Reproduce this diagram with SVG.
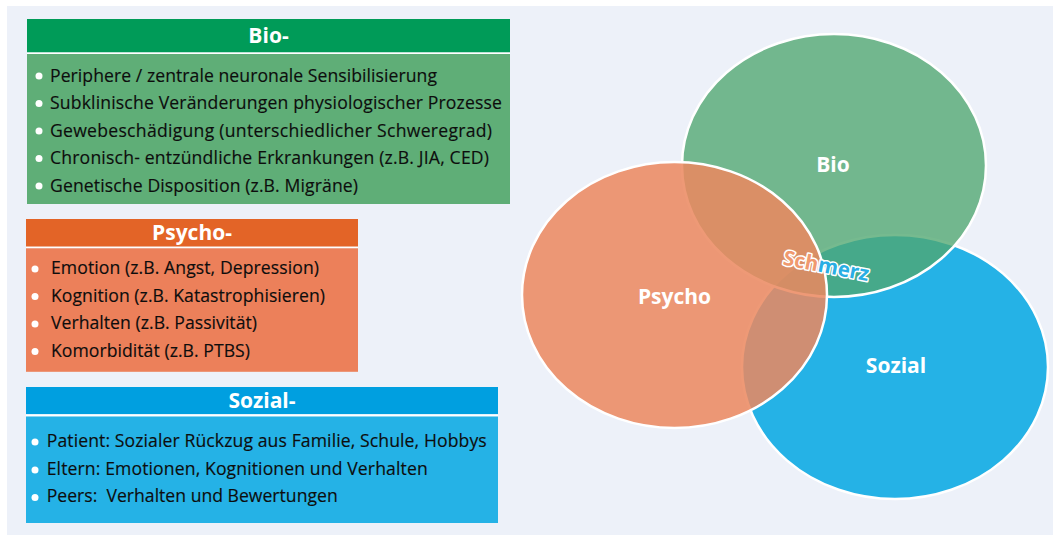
<svg xmlns="http://www.w3.org/2000/svg" width="1053" height="535" viewBox="0 0 1053 535">
  <style>
    .hdr { font-family: "Open Sans", "Noto Sans", sans-serif; font-weight: 700; font-size: 21px; fill: #ffffff; text-anchor: middle; }
    .txt { font-family: "Open Sans", "Noto Sans", sans-serif; font-size: 17.6px; fill: #0d0d0d; stroke: #0d0d0d; stroke-width: 0.15; }
    .bul { fill: #ffffff; }
    .lbl { font-family: "Open Sans", "Noto Sans", sans-serif; font-weight: 700; font-size: 21px; fill: #ffffff; text-anchor: middle; }
    .ell { stroke: #ffffff; stroke-width: 2.5; }
    .sch { font-family: "Open Sans", "Noto Sans", sans-serif; font-weight: 700; font-size: 20.5px; stroke: #ffffff; stroke-width: 3; paint-order: stroke; stroke-linejoin: round; }
  </style>
  <rect x="0" y="0" width="1053" height="535" fill="#ffffff"/>
  <rect x="7" y="6" width="1046" height="529" fill="#edf1f9"/>

  <g id="box-bio">
    <rect x="27" y="19" width="483" height="33.5" fill="#009b58"/>
    <rect x="27" y="52.5" width="483" height="1.5" fill="#ffffff"/>
    <rect x="27" y="54" width="483" height="150" fill="#5fae77"/>
    <text class="hdr" x="268.5" y="43">Bio-</text>
    <circle class="bul" cx="39" cy="76" r="3.5"/>
    <circle class="bul" cx="39" cy="103.5" r="3.5"/>
    <circle class="bul" cx="39" cy="131" r="3.5"/>
    <circle class="bul" cx="39" cy="158.5" r="3.5"/>
    <circle class="bul" cx="39" cy="186" r="3.5"/>
    <text class="txt" x="50" y="81.7" textLength="387">Periphere / zentrale neuronale Sensibilisierung</text>
    <text class="txt" x="50" y="109.2" textLength="452">Subklinische Veränderungen physiologischer Prozesse</text>
    <text class="txt" x="50" y="136.7" textLength="442">Gewebeschädigung (unterschiedlicher Schweregrad)</text>
    <text class="txt" x="50" y="164.2" textLength="439">Chronisch- entzündliche Erkrankungen (z.B. JIA, CED)</text>
    <text class="txt" x="50" y="191.7" textLength="308">Genetische Disposition (z.B. Migräne)</text>
  </g>

  <g id="box-psycho">
    <rect x="26" y="219" width="332" height="27.7" fill="#e36427"/>
    <rect x="26" y="246.7" width="332" height="1.6" fill="#ffffff"/>
    <rect x="26" y="248.3" width="332" height="123.5" fill="#ec805a"/>
    <text class="hdr" x="192" y="240">Psycho-</text>
    <circle class="bul" cx="35" cy="269" r="3.5"/>
    <circle class="bul" cx="35" cy="296.5" r="3.5"/>
    <circle class="bul" cx="35" cy="324" r="3.5"/>
    <circle class="bul" cx="35" cy="351.5" r="3.5"/>
    <text class="txt" x="51" y="274.2" textLength="268">Emotion (z.B. Angst, Depression)</text>
    <text class="txt" x="51" y="301.7" textLength="274">Kognition (z.B. Katastrophisieren)</text>
    <text class="txt" x="51" y="329.2" textLength="206">Verhalten (z.B. Passivität)</text>
    <text class="txt" x="51" y="356.7" textLength="199">Komorbidität (z.B. PTBS)</text>
  </g>

  <g id="box-sozial">
    <rect x="26" y="387" width="472" height="27.3" fill="#009fe0"/>
    <rect x="26" y="414.3" width="472" height="2.2" fill="#ffffff"/>
    <rect x="26" y="416.5" width="472" height="106.5" fill="#25b2e6"/>
    <text class="hdr" x="262" y="408">Sozial-</text>
    <circle class="bul" cx="35" cy="442" r="3.5"/>
    <circle class="bul" cx="35" cy="470" r="3.5"/>
    <circle class="bul" cx="35" cy="497.5" r="3.5"/>
    <text class="txt" x="46.7" y="446.7" textLength="440">Patient: Sozialer Rückzug aus Familie, Schule, Hobbys</text>
    <text class="txt" x="46.7" y="474.7" textLength="381">Eltern: Emotionen, Kognitionen und Verhalten</text>
    <text class="txt" x="46.7" y="502.2" textLength="291" xml:space="preserve">Peers:  Verhalten und Bewertungen</text>
  </g>

  <g id="venn-sozial">
    <ellipse class="ell" cx="895" cy="367" rx="153" ry="132" fill="#25b2e6"/>
  </g>
  <g id="venn-bio">
    <ellipse class="ell" cx="834" cy="165.5" rx="152" ry="131.5" fill="#50a76f" fill-opacity="0.78"/>
  </g>
  <g id="venn-psycho">
    <ellipse class="ell" cx="674.5" cy="295" rx="152.5" ry="133" fill="#eb8860" fill-opacity="0.86"/>
  </g>
  <g id="venn-labels">
    <text class="lbl" x="833" y="172">Bio</text>
    <text class="lbl" x="674.5" y="304">Psycho</text>
    <text class="lbl" x="896" y="373">Sozial</text>
  </g>
  <g id="label-schmerz">
    <text class="sch" x="826" y="273" text-anchor="middle" transform="rotate(11 826 267)"><tspan fill="#f0996f">Sch</tspan><tspan fill="#29aee4">merz</tspan></text>
  </g>
</svg>
